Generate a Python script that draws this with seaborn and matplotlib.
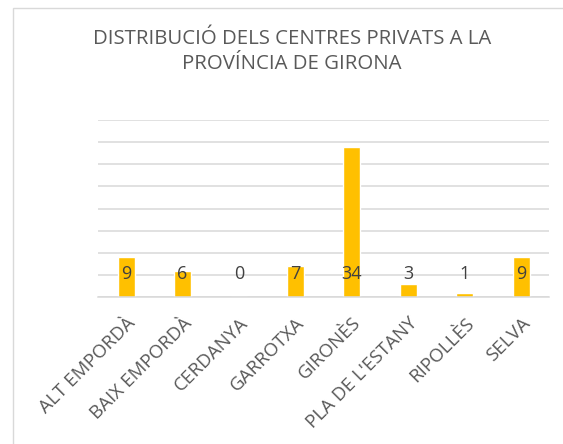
import matplotlib
matplotlib.use("Agg")
import matplotlib.pyplot as plt
import seaborn as sns
import pandas as pd
from matplotlib.patches import Rectangle

comarques = ["ALT EMPORDÀ", "BAIX EMPORDÀ", "CERDANYA", "GARROTXA", "GIRONÈS",
             "PLA DE L'ESTANY", "RIPOLLÈS", "SELVA"]
centres = [9, 6, 0, 7, 34, 3, 1, 9]
title = "DISTRIBUCIÓ DELS CENTRES PRIVATS A LA\nPROVÍNCIA DE GIRONA"

df = pd.DataFrame({"comarca": comarques, "centres": centres})

sns.set_theme(style="white")
plt.rcParams['font.family'] = ['Open Sans', 'DejaVu Sans']

fig = plt.figure(figsize=(5.63, 4.44), dpi=100)
fig.patches.append(Rectangle((12.5 / 563, -0.1), 1.2, 1 - 8.5 / 444 + 0.1,
                             transform=fig.transFigure, fill=False,
                             edgecolor="#D9D9D9", linewidth=1))
ax = fig.add_axes([98 / 563, 1 - 297.3 / 444, (549.3 - 98) / 563, (297.3 - 120) / 444])

sns.barplot(data=df, x="comarca", y="centres", color="#FFC000", width=0.3,
            saturation=1, ax=ax)

ax.set_ylim(0, 40)
ax.set_yticks(range(0, 41, 5))
ax.yaxis.grid(True, color="#D9D9D9", linewidth=1.1)
ax.set_axisbelow(True)
ax.set_yticklabels([])
ax.tick_params(axis="y", length=0)
ax.tick_params(axis="x", length=0, pad=12)
for s in ["top", "right", "left"]:
    ax.spines[s].set_visible(False)
ax.spines["bottom"].set_color("#D9D9D9")
ax.spines["bottom"].set_linewidth(1.1)
ax.set_xlabel("")
ax.set_ylabel("")
ax.set_xlim(-0.5, len(comarques) - 0.5)

for lbl in ax.get_xticklabels():
    lbl.set_rotation(45)
    lbl.set_ha("right")
    lbl.set_rotation_mode("anchor")
    lbl.set_fontsize(13.5)
    lbl.set_color("#595959")

for i, v in enumerate(centres):
    ax.text(i, 5.2, str(v), ha="center", va="center", fontsize=13, color="#404040")

fig.text(292 / 563, 1 - 51.5 / 444, title, ha="center", va="center", fontsize=14.7,
         color="#595959", linespacing=1.3)

fig.savefig("out.png", dpi=100)
